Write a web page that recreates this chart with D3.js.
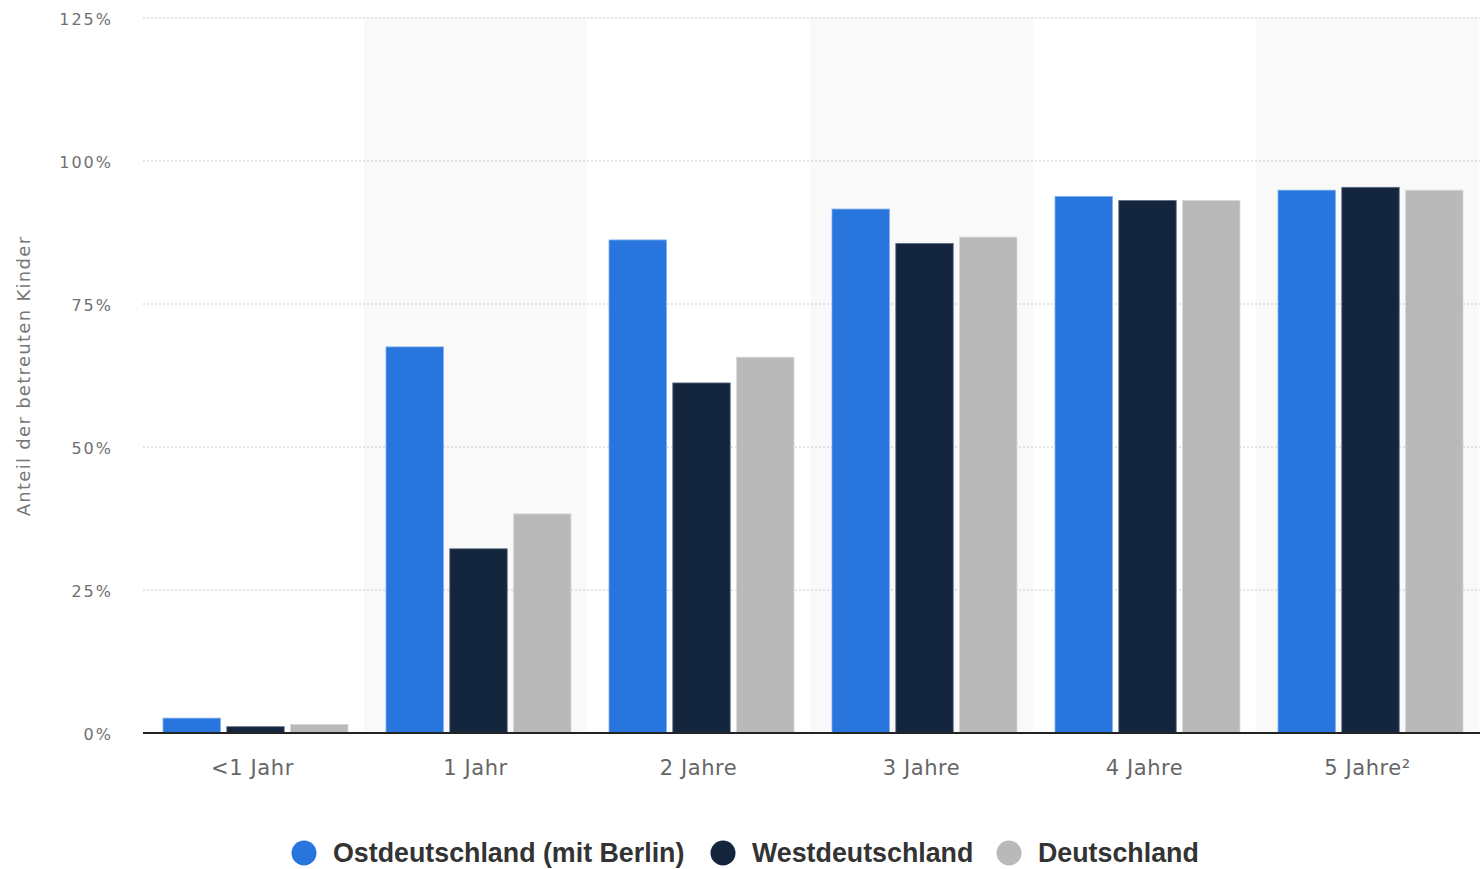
<!DOCTYPE html>
<html><head><meta charset="utf-8">
<script src="https://cdn.jsdelivr.net/npm/d3@7"></script>
<style>body{margin:0;background:#fff;}svg{display:block;}</style>
</head><body>
<svg id="c" width="1480" height="869"></svg>
<script>
const categories = ["<1 Jahr", "1 Jahr", "2 Jahre", "3 Jahre", "4 Jahre", "5 Jahre²"];
const seriesNames = ["Ostdeutschland (mit Berlin)", "Westdeutschland", "Deutschland"];
const ost = [2.6, 67.5, 86.2, 91.6, 93.8, 94.9];
const west = [1.1, 32.2, 61.2, 85.6, 93.1, 95.4];
const deutschland = [1.5, 38.3, 65.7, 86.7, 93.1, 94.9];
const yTicks = [0, 25, 50, 75, 100, 125];
const colors = ["#2876dd", "#13263d", "#b9b9b9"];
const strokes = ["#7fb0ee", "#5d6d80", "#d8d8d8"];
const series = [ost, west, deutschland];

const svg = d3.select("#c");
const x = d3.scaleBand().domain(categories).range([141, 1479]);
const y = d3.scaleLinear().domain([0, 125]).range([733, 18]);
const inner = d3.scaleBand().domain(d3.range(3)).range([22, x.bandwidth() - 16]).paddingInner(0.1);

// alternating shading
svg.append("g").selectAll("rect").data(categories.filter((d, i) => i % 2 === 1)).join("rect")
  .attr("x", d => x(d)).attr("y", y(125)).attr("width", x.bandwidth()).attr("height", y(0) - y(125))
  .attr("fill", "#f9f9f9");

// grid
const yAxis = d3.axisLeft(y).tickValues(yTicks).tickFormat(d => d + "%").tickSize(0).tickPadding(30);
const ga = svg.append("g").attr("transform", "translate(143,1)").call(yAxis);
ga.select(".domain").remove();
ga.selectAll("text").attr("font-family", "DejaVu Sans, sans-serif").attr("font-size", 16).attr("fill", "#707070").attr("letter-spacing", "2px");
svg.append("g").selectAll("line").data(yTicks.filter(d => d > 0)).join("line")
  .attr("x1", 143).attr("x2", 1480).attr("y1", d => y(d)).attr("y2", d => y(d))
  .attr("stroke", "#c8c8c8").attr("stroke-width", 1).attr("stroke-dasharray", "2,2");

// bars
const g = svg.append("g");
series.forEach((s, si) => {
  g.append("g").selectAll("rect").data(s).join("rect")
    .attr("x", (d, i) => x(categories[i]) + inner(si))
    .attr("y", d => y(d)).attr("width", inner.bandwidth()).attr("height", d => y(0) - y(d))
    .attr("fill", colors[si]).attr("stroke", strokes[si]).attr("stroke-width", 0.8);
});

// baseline
svg.append("line").attr("x1", 143).attr("x2", 1480).attr("y1", y(0)).attr("y2", y(0))
  .attr("stroke", "#222").attr("stroke-width", 2);

// x labels
const xa = svg.append("g").attr("transform", "translate(0,733)").call(d3.axisBottom(x).tickSize(0).tickPadding(29));
xa.select(".domain").remove();
xa.selectAll("text").attr("font-family", "DejaVu Sans, sans-serif").attr("font-size", 21).attr("fill", "#666").attr("letter-spacing", "0.6px").attr("dy", "0.6em");

// y title
svg.append("text").attr("transform", "translate(30,376) rotate(-90)").attr("text-anchor", "middle")
  .attr("font-family", "DejaVu Sans, sans-serif").attr("font-size", 18).attr("fill", "#777").attr("letter-spacing", "1.3px")
  .text("Anteil der betreuten Kinder");

// legend
const legX = [304, 723, 1009];
const lg = svg.append("g");
seriesNames.forEach((n, i) => {
  lg.append("circle").attr("cx", legX[i]).attr("cy", 853).attr("r", 12.5).attr("fill", colors[i]);
  lg.append("text").attr("x", legX[i] + 29).attr("y", 853).attr("dy", "0.35em")
    .attr("font-family", "Liberation Sans, sans-serif").attr("font-weight", "bold")
    .attr("font-size", 26.8).attr("fill", "#333").text(n);
});
</script>
</body></html>
